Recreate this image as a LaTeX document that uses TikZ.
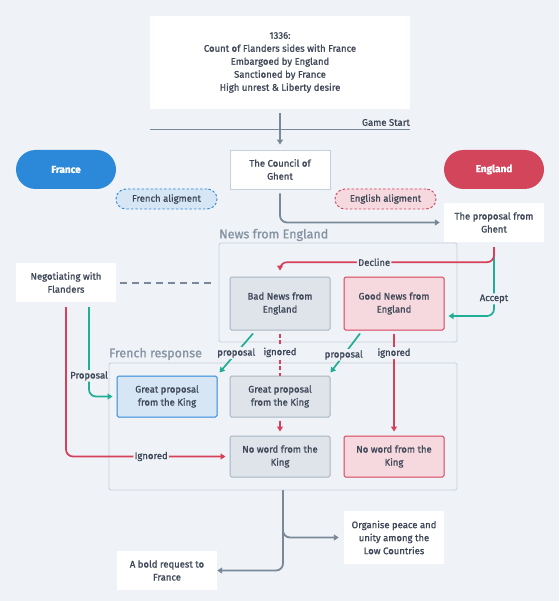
\documentclass[tikz,border=0pt]{standalone}
\usepackage{fontspec}
\setmainfont{Fira Sans}[FakeBold=1.2]
\usetikzlibrary{arrows.meta,calc}
\definecolor{bg}{HTML}{EFF3F7}
\definecolor{txt}{HTML}{3F4858}
\definecolor{conn}{HTML}{7A8999}
\definecolor{redc}{HTML}{D6405A}
\definecolor{tealc}{HTML}{22AD95}
\definecolor{bluepill}{HTML}{2C88D9}
\definecolor{redpill}{HTML}{D3455B}
\definecolor{lightblue}{HTML}{D6E6F5}
\definecolor{lightred}{HTML}{F6D9DE}
\definecolor{grayfill}{HTML}{DFE4EB}
\definecolor{grayborder}{HTML}{A8B5C2}
\definecolor{groupborder}{HTML}{C6D0DA}
\definecolor{grouptitle}{HTML}{8593A3}
\begin{document}
\begin{tikzpicture}[x=1pt,y=-1pt,
  font=\fontsize{9.5}{13}\selectfont, text=txt,
  base/.style={rectangle, align=center, inner sep=0pt},
  whitebox/.style={base, fill=white},
  borderbox/.style={base, fill=white, draw=groupborder, line width=0.8pt},
  graybox/.style={base, fill=grayfill, draw=grayborder, line width=1pt, rounded corners=1.5pt},
  redbox/.style={base, fill=lightred, draw=redc, line width=1pt, rounded corners=1.5pt},
  bluebox/.style={base, fill=lightblue, draw=bluepill, line width=1pt, rounded corners=1.5pt},
  pill/.style={base, rounded corners=19.5pt, text=white, font=\fontsize{10}{13}\selectfont\bfseries},
  tag/.style={base, rounded corners=10pt, dashed, dash pattern=on 2.5pt off 2pt, line width=0.9pt},
  group/.style={base, draw=groupborder, line width=0.8pt, rounded corners=1.5pt},
  gtitle/.style={anchor=west, inner sep=0pt, text=grouptitle, font=\fontsize{12.5}{13}\selectfont},
  tip/.style={-{Triangle[width=6pt,length=5pt]}},
  gconn/.style={draw=conn, line width=1.8pt, rounded corners=7pt},
  rconn/.style={draw=redc, line width=1.7pt, rounded corners=7pt},
  tconn/.style={draw=tealc, line width=1.7pt, rounded corners=7pt},
  lbl/.style={fill=bg, inner sep=1.2pt, text=txt}
]
\fill[bg] (0,0) rectangle (559,601);
\useasboundingbox (0,0) rectangle (559,601);

% groups
\node[group, minimum width=238pt, minimum height=99pt] (news) at (338,292.5) {};
\node[gtitle] (newst) at (219,235) {News from England};
\node[group, minimum width=348pt, minimum height=127pt] (fresp) at (283,426.5) {};
\node[gtitle] (frest) at (109,354) {French response};

% top
\node[whitebox, minimum width=260pt, minimum height=93pt] (top) at (280,62.5)
  {1336:\\Count of Flanders sides with France\\Embargoed by England\\Sanctioned by France\\High unrest \& Liberty desire};
\coordinate (gsL) at (150,129);
\coordinate (gsR) at (410,129);
\draw[draw=conn, line width=0.9pt] (gsL) -- (gsR);
\node[anchor=east, inner sep=0pt] (gs) at (410,122.5) {Game Start};

\node[borderbox, minimum width=100pt, minimum height=39pt] (council) at (280,169.5) {The Council of\\Ghent};
\node[pill, fill=bluepill, minimum width=100pt, minimum height=39pt] (france) at (66,169.5) {France};
\node[pill, fill=redpill, minimum width=100pt, minimum height=39pt] (england) at (494,169.5) {England};
\node[tag, fill=lightblue, draw=bluepill, minimum width=101pt, minimum height=20pt] (fral) at (166.5,199) {French aligment};
\node[tag, fill=lightred, draw=redc, minimum width=101pt, minimum height=20pt] (enal) at (385.5,199) {English aligment};
\node[whitebox, minimum width=100pt, minimum height=39pt] (ghent) at (494,222.5) {The proposal from\\Ghent};

\node[graybox, minimum width=100pt, minimum height=53pt] (bad) at (280,303.5) {Bad News from\\England};
\node[redbox, minimum width=100pt, minimum height=53pt] (good) at (394,303.5) {Good News from\\England};
\node[whitebox, minimum width=100pt, minimum height=39pt] (neg) at (66,282.5) {Negotiating with\\Flanders};

\node[bluebox, minimum width=100pt, minimum height=41pt] (gpb) at (167,396.5) {Great proposal\\from the King};
\node[graybox, minimum width=100pt, minimum height=41pt] (gpg) at (280,396.5) {Great proposal\\from the King};
\node[graybox, minimum width=100pt, minimum height=41pt] (nwg) at (280,456.5) {No word from the\\King};
\node[redbox, minimum width=100pt, minimum height=41pt] (nwr) at (394,456.5) {No word from the\\King};

\node[whitebox, minimum width=100pt, minimum height=53pt] (org) at (394,537.5) {Organise peace and\\unity among the\\Low Countries};
\node[whitebox, minimum width=100pt, minimum height=39pt] (bold) at (167,570.5) {A bold request to\\France};

% connectors
\draw[gconn, tip, shorten <=4pt, shorten >=5pt] (top.south) -- (council.north);
\draw[gconn, tip] ([yshift=-4pt]council.south) |- ([xshift=-4pt]ghent.west);

\draw[tconn, tip] ([yshift=-5pt]ghent.south) |- ([xshift=4pt,yshift=-12.5pt]good.east)
  node[lbl, pos=0.375] (acc) {Accept};
\draw[rconn, tip] ([yshift=-5pt]ghent.south) -- ++(0,15) -| ([yshift=6pt]bad.north)
  node[lbl, pos=0.28] (dec) {Decline};

\draw[draw=conn, line width=2pt, dash pattern=on 7pt off 5pt] ([xshift=4pt]neg.east) -- ([xshift=-5pt]news.west |- neg.east);

\draw[tconn, tip] ([xshift=-27pt,yshift=-3pt]bad.south) -- ([xshift=2pt,yshift=3pt]gpb.north east)
  node[lbl, pos=0.5] (p1) {proposal};
\draw[draw=redc, line width=1.3pt, dash pattern=on 4pt off 2.5pt] ([yshift=-3pt]bad.south) -- (gpg.north)
  node[lbl, pos=0.45] (i1) {ignored};
\draw[tconn, tip] ([xshift=-34pt,yshift=-3pt]good.south) -- ([yshift=3pt]gpg.north east)
  node[lbl, pos=0.55] (p2) {proposal};
\draw[rconn, tip] ([yshift=-3pt]good.south) -- ([yshift=4pt]nwr.north)
  node[lbl, pos=0.2] (i2) {ignored};
\draw[rconn, tip] ([yshift=-3pt]gpg.south) -- ([yshift=4pt]nwg.north);

\draw[rconn, tip] ([yshift=-5pt]neg.south) |- ([xshift=-4pt]nwg.west)
  node[lbl, pos=0.767] (ign) {Ignored};
\draw[tconn, tip] ([xshift=23pt,yshift=-5pt]neg.south) |- ([xshift=-4pt]gpb.west)
  node[lbl, pos=0.385] (prop) {Proposal};

\draw[gconn, tip] (fresp.south) |- (bold.east);
\draw[gconn, tip] (fresp.south) |- ([xshift=-5pt]org.west);
\end{tikzpicture}
\end{document}
